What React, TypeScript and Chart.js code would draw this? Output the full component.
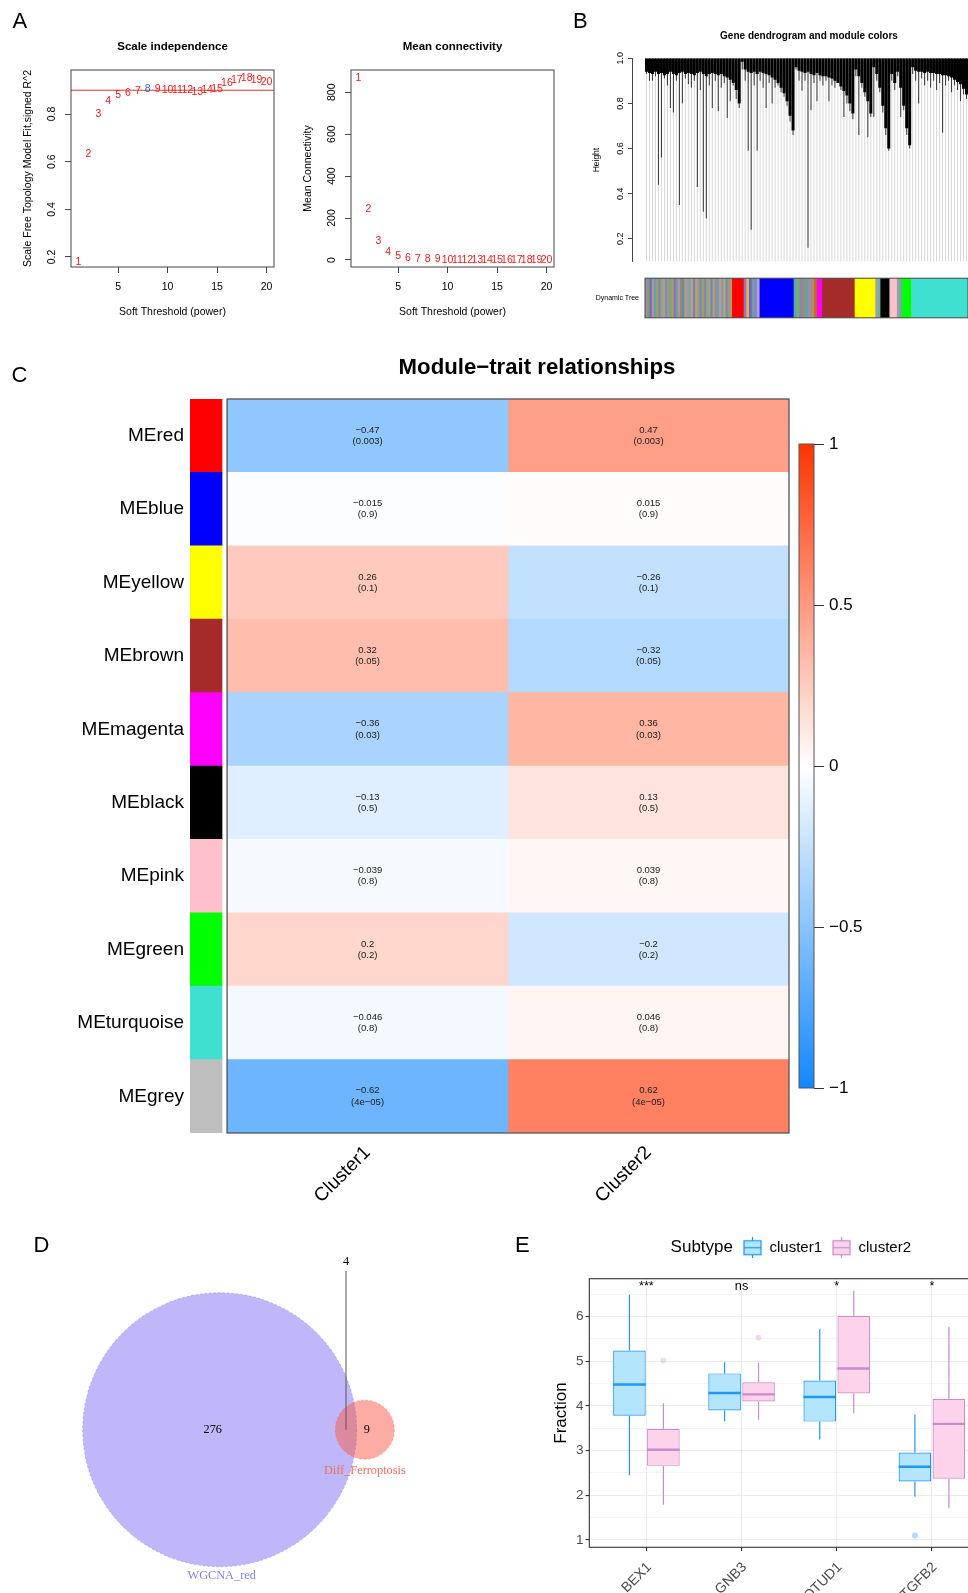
import React, { useEffect, useRef } from "react";
import { Chart, registerables } from "chart.js";

Chart.register(...registerables);

const SANS = "'Liberation Sans', Arial, Helvetica, sans-serif";
const SERIF = "'Liberation Serif', 'Times New Roman', Times, serif";
Chart.defaults.font.family = SANS;
Chart.defaults.color = "#000";

/* ---------------- Panel A data ---------------- */
const softPowers = [1, 2, 3, 4, 5, 6, 7, 8, 9, 10, 11, 12, 13, 14, 15, 16, 17, 18, 19, 20];
const scaleFreeR2 = [0.18, 0.63, 0.8, 0.856, 0.88, 0.887, 0.897, 0.905, 0.905, 0.9, 0.9, 0.9, 0.894, 0.9, 0.903, 0.929, 0.943, 0.95, 0.943, 0.936];
const meanConnectivity = [869, 242, 89, 37, 19, 11, 5, 3, 2.2, 1.6, 1.3, 1.1, 0.9, 0.8, 0.7, 0.6, 0.5, 0.45, 0.4, 0.35];
const chosenPower = 8;
const r2Cutoff = 0.9;
const powerTicks = [5, 10, 15, 20];
const r2Ticks = [0.2, 0.4, 0.6, 0.8];
const connectivityTicks = [0, 200, 400, 600, 800];

/* ---------------- Panel B data ---------------- */
const leafCanopy = [
  0.94, 0.935, 0.93, 0.94, 0.93, 0.935, 0.925, 0.93, 0.94, 0.93,
  0.925, 0.935, 0.94, 0.93, 0.935, 0.93, 0.925, 0.935, 0.94, 0.93,
  0.92, 0.93, 0.935, 0.93, 0.925, 0.93, 0.92, 0.915, 0.905, 0.89,
  0.86, 0.8, 0.985, 0.95, 0.94, 0.935, 0.94, 0.93, 0.94, 0.935,
  0.93, 0.925, 0.915, 0.905, 0.89, 0.87, 0.845, 0.81, 0.745, 0.68,
  0.96, 0.945, 0.94, 0.935, 0.94, 0.93, 0.925, 0.935, 0.925, 0.92,
  0.92, 0.915, 0.91, 0.9, 0.89, 0.875, 0.855, 0.835, 0.8, 0.755,
  0.95, 0.92, 0.89, 0.85, 0.81, 0.755, 0.96, 0.93, 0.87, 0.79,
  0.69, 0.6, 0.93, 0.89, 0.94, 0.87, 0.79, 0.69, 0.615, 0.96,
  0.945, 0.94, 0.94, 0.935, 0.94, 0.935, 0.935, 0.93, 0.93, 0.925,
  0.925, 0.92, 0.915, 0.905, 0.895, 0.885, 0.865, 0.84,
];
const leafTips = [
  0.93, 0.9, 0.9, 0.92, 0.44, 0.56, 0.91, 0.88, 0.78, 0.76,
  0.9, 0.35, 0.8, 0.91, 0.885, 0.87, 0.9, 0.43, 0.86, 0.32,
  0.29, 0.88, 0.78, 0.9, 0.765, 0.87, 0.89, 0.735, 0.81, 0.88,
  0.82, 0.78, 0.95, 0.9, 0.59, 0.24, 0.88, 0.59, 0.9, 0.87,
  0.78, 0.89, 0.8, 0.87, 0.88, 0.85, 0.83, 0.79, 0.72, 0.66,
  0.95, 0.9, 0.856, 0.9, 0.16, 0.77, 0.89, 0.81, 0.9, 0.88,
  0.9, 0.81, 0.88, 0.87, 0.89, 0.86, 0.74, 0.8, 0.765, 0.73,
  0.92, 0.66, 0.87, 0.83, 0.65, 0.74, 0.74, 0.9, 0.85, 0.76,
  0.66, 0.59, 0.9, 0.86, 0.92, 0.74, 0.77, 0.66, 0.6, 0.93,
  0.9, 0.8, 0.91, 0.88, 0.9, 0.87, 0.9, 0.86, 0.89, 0.67,
  0.88, 0.9, 0.85, 0.88, 0.86, 0.81, 0.84, 0.82,
];
const heightTicks = [0.2, 0.4, 0.6, 0.8, 1.0];
const TREE_TOP = 1.0;
const TREE_FLOOR = 0.1;
const mixA = ["#9c8fb8", "#8a9a5b", "#6b6fc2", "#b58fa3", "#5fa6a0", "#a3a35c", "#8c7cc4", "#7fb07f", "#c29a7a", "#7a8fb8", "#a68fa8", "#6fa86f", "#b0a050", "#9070c0", "#60a0b0", "#c0909a", "#889060", "#7080c8", "#a0b060", "#b08abf", "#70a8a0", "#b8a070", "#8878b8", "#98b078", "#c08888", "#6890b8", "#a0a058", "#9080b0", "#78b090", "#b89878", "#7088c0", "#a8a860", "#a080b8", "#68a898", "#c09890", "#8898b0", "#a8b068", "#9878c0", "#80a880", "#b89868"];
const mixB = ["#9a70c8", "#d0c040", "#7060d0", "#6aa0a8", "#9080c0", "#b0a0d8"];
const mixC = ["#60a8a0", "#70b070", "#9a78c0", "#8a9a60", "#68a0b0", "#a08ab8", "#b09060", "#c86428"];
const mixD = ["#a0a0a0", "#70b0a8"];
const mixE = ["#a0a0a0", "#60b0a0"];
const treeBandColors: (string | string[])[] = [mixA, "#FF0000", mixB, "#0000FF", mixC, "#FF00FF", "#A52A2A", "#FFFF00", mixD, "#000000", "#BEBEBE", "#FFC0CB", mixE, "#00FF00", "#40E0D0"];
const treeBandWidths = [29, 3.9, 5.3, 11.4, 7.8, 1.7, 10.9, 6.9, 1.7, 3.0, 0.3, 2.2, 1.7, 3.1, 20];

/* ---------------- Panel C data ---------------- */
const moduleNames = ["MEred", "MEblue", "MEyellow", "MEbrown", "MEmagenta", "MEblack", "MEpink", "MEgreen", "MEturquoise", "MEgrey"];
const moduleColors = ["#FF0000", "#0000FF", "#FFFF00", "#A52A2A", "#FF00FF", "#000000", "#FFC0CB", "#00FF00", "#40E0D0", "#BEBEBE"];
const traitNames = ["Cluster1", "Cluster2"];
const corCluster1 = [-0.47, -0.015, 0.26, 0.32, -0.36, -0.13, -0.039, 0.2, -0.046, -0.62];
const corCluster2 = [0.47, 0.015, -0.26, -0.32, 0.36, 0.13, 0.039, -0.2, 0.046, 0.62];
const pCluster1 = ["0.003", "0.9", "0.1", "0.05", "0.03", "0.5", "0.8", "0.2", "0.8", "4e\u221205"];
const pCluster2 = ["0.003", "0.9", "0.1", "0.05", "0.03", "0.5", "0.8", "0.2", "0.8", "4e\u221205"];
const colorbarTicks = [-1, -0.5, 0, 0.5, 1];

/* ---------------- Panel D data ---------------- */
const vennSetNames = ["WGCNA_red", "Diff_Ferroptosis"];
const vennOnly = [276, 9];
const vennShared = 4;

/* ---------------- Panel E data ---------------- */
const genes = ["BEX1", "GNB3", "OTUD1", "TGFB2"];
const subtypes = ["cluster1", "cluster2"];
const c1Min = [2.45, 3.66, 3.25, 1.97];
const c1Q1 = [3.78, 3.9, 3.65, 2.31];
const c1Median = [4.48, 4.29, 4.2, 2.64];
const c1Q3 = [5.24, 4.73, 4.57, 2.96];
const c1Max = [6.49, 4.98, 5.72, 3.81];
const c1Outliers = [[], [], [], [1.1]];
const c2Min = [1.79, 3.69, 3.84, 1.71];
const c2Q1 = [2.66, 4.1, 4.28, 2.37];
const c2Median = [3.02, 4.26, 4.84, 3.6];
const c2Q3 = [3.49, 4.53, 6.02, 4.16];
const c2Max = [4.06, 4.97, 6.58, 5.77];
const c2Outliers = [[5.02], [5.53], [], []];
const significance = ["***", "ns", "*", "*"];
const fractionGrid = [1, 1.5, 2, 2.5, 3, 3.5, 4, 4.5, 5, 5.5, 6, 6.5];

/* ---------------- helpers ---------------- */
const signed = (v: number) => (v < 0 ? "\u2212" + String(Math.abs(v)) : String(v));

type Label = { text: string; x: number; y: number; size: number; bold?: boolean; family?: string; color?: string; align?: CanvasTextAlign; baseline?: CanvasTextBaseline };
function textPlugin(id: string, items: Label[]) {
  return {
    id,
    afterDraw(chart: any) {
      const ctx = chart.ctx;
      items.forEach((t) => {
        ctx.save();
        ctx.font = `${t.bold ? "bold " : ""}${t.size}px ${t.family || SANS}`;
        ctx.fillStyle = t.color || "#000";
        ctx.textAlign = t.align || "center";
        ctx.textBaseline = t.baseline || "alphabetic";
        ctx.fillText(t.text, t.x, t.y);
        ctx.restore();
      });
    },
  };
}
function framePlugin(id: string, color: string, lw: number) {
  return {
    id,
    afterDraw(chart: any) {
      const { ctx, chartArea: a } = chart;
      ctx.save();
      ctx.strokeStyle = color;
      ctx.lineWidth = lw;
      ctx.strokeRect(a.left, a.top, a.right - a.left, a.bottom - a.top);
      ctx.restore();
    },
  };
}
const setTicks = (vals: number[]) => (s: any) => {
  s.ticks = vals.map((v) => ({ value: v }));
};
const NEG_END = [20, 135, 255];
const POS_END = [255, 51, 0];
function corColor(v: number) {
  const end = v < 0 ? NEG_END : POS_END;
  const t = Math.min(1, Math.abs(v));
  const c = end.map((e) => Math.round(255 + (e - 255) * t));
  return `rgb(${c[0]},${c[1]},${c[2]})`;
}
const base = { responsive: false, animation: false, events: [] as string[] };
const noLegend = { legend: { display: false }, tooltip: { enabled: false } };

/* ---------------- Panel A ---------------- */
function thresholdConfig(values: number[], o: { yMin: number; yMax: number; yTicks: number[]; yFmt: (v: number) => string; yTitle: string; yPad: number; title: string; cutoff?: number; highlight?: number }) {
  const labelPlugin = {
    id: "powerLabels",
    afterDatasetsDraw(chart: any) {
      const ctx = chart.ctx;
      const a = chart.chartArea;
      ctx.save();
      if (o.cutoff !== undefined) {
        const yy = chart.scales.y.getPixelForValue(o.cutoff);
        ctx.strokeStyle = "#f03030";
        ctx.lineWidth = 1;
        ctx.beginPath();
        ctx.moveTo(a.left, yy);
        ctx.lineTo(a.right, yy);
        ctx.stroke();
      }
      ctx.font = `10.5px ${SANS}`;
      ctx.textAlign = "center";
      ctx.textBaseline = "middle";
      chart.getDatasetMeta(0).data.forEach((el: any, i: number) => {
        ctx.fillStyle = softPowers[i] === o.highlight ? "#3a5fc8" : "#ee1c1c";
        ctx.fillText(String(softPowers[i]), el.x, el.y);
      });
      ctx.restore();
    },
  };
  return {
    type: "scatter",
    data: { datasets: [{ data: softPowers.map((p, i) => ({ x: p, y: values[i] })), pointRadius: 0 }] },
    options: {
      ...base,
      layout: { padding: { left: 0, top: 70, right: 71, bottom: 0 } },
      plugins: noLegend,
      scales: {
        x: {
          type: "linear", min: 0.24, max: 20.76,
          afterBuildTicks: setTicks(powerTicks),
          afterFit: (s: any) => { s.height = 63; },
          ticks: { autoSkip: false, minRotation: 0, maxRotation: 0, padding: 7.7, font: { size: 10.5 }, color: "#000", callback: (v: any) => String(v) },
          grid: { display: true, drawOnChartArea: false, drawTicks: true, tickLength: 6, color: "#444", tickColor: "#444" },
          border: { display: false },
          title: { display: true, text: "Soft Threshold (power)", font: { size: 10.5 }, color: "#000", padding: { top: 0, bottom: 11.7 } },
        },
        y: {
          type: "linear", min: o.yMin, max: o.yMax,
          afterBuildTicks: setTicks(o.yTicks),
          afterFit: (s: any) => { s.width = 71; },
          ticks: { autoSkip: false, minRotation: 90, maxRotation: 90, crossAlign: "center", padding: o.yPad, font: { size: 10.5 }, color: "#000", callback: (v: any) => o.yFmt(Number(v)) },
          grid: { display: true, drawOnChartArea: false, drawTicks: true, tickLength: 6, color: "#444", tickColor: "#444" },
          border: { display: false },
          title: { display: true, text: o.yTitle, font: { size: 10.5 }, color: "#000", padding: { top: 22, bottom: 0 } },
        },
      },
    },
    plugins: [labelPlugin, framePlugin("frameA", "#444", 1), textPlugin("titleA", [{ text: o.title, x: 172.5, y: 49.5, size: 11.5, bold: true }])],
  };
}

/* ---------------- Panel B ---------------- */
function dendroConfig() {
  const common = { grouped: false, inflateAmount: 0, borderWidth: 0 };
  return {
    type: "bar",
    data: {
      datasets: [
        { ...common, label: "canopy", data: leafCanopy.map((c, i) => ({ x: i, y: [c, TREE_TOP] })), backgroundColor: "#000", barThickness: 3, order: 0 },
        { ...common, label: "branch", data: leafTips.map((t, i) => ({ x: i, y: [t, TREE_TOP] })), backgroundColor: "#3c3c3c", barThickness: 1.1, order: 1 },
        { ...common, label: "guide", data: leafTips.map((t, i) => ({ x: i, y: [TREE_FLOOR, t] })), backgroundColor: "#d8d8d8", barThickness: 1, order: 2 },
      ],
    },
    options: {
      ...base,
      layout: { padding: { left: 0, top: 58.3, right: 0, bottom: 0 } },
      plugins: noLegend,
      scales: {
        x: { type: "linear", min: -4.85, max: 107.5, offset: false, grid: { offset: false }, display: false },
        y: {
          type: "linear", min: 0.098, max: 1.0,
          afterBuildTicks: setTicks(heightTicks),
          afterFit: (s: any) => { s.width = 62; },
          ticks: { autoSkip: false, minRotation: 90, maxRotation: 90, crossAlign: "center", padding: 0.75, font: { size: 9 }, color: "#000", callback: (v: any) => Number(v).toFixed(1) },
          grid: { display: true, drawOnChartArea: false, drawTicks: true, tickLength: 4, color: "#444", tickColor: "#444" },
          border: { display: true, color: "#444", width: 1 },
          title: { display: true, text: "Height", font: { size: 8.5 }, color: "#000", padding: { top: 21.9, bottom: 0 } },
        },
      },
    },
    plugins: [textPlugin("titleB", [{ text: "Gene dendrogram and module colors", x: 239, y: 39, size: 10, bold: true }])],
  };
}

function treeColorsConfig() {
  const stripes: { color: string; from: number; to: number }[] = [];
  let pos = 0;
  treeBandColors.forEach((c, k) => {
    const w = treeBandWidths[k];
    const cols = Array.isArray(c) ? c : [c];
    const step = w / cols.length;
    cols.forEach((col, j) => stripes.push({ color: col, from: pos + j * step, to: pos + (j + 1) * step }));
    pos += w;
  });
  return {
    type: "bar",
    data: {
      labels: ["Dynamic Tree"],
      datasets: stripes.map((s) => ({ data: [[s.from, s.to]], backgroundColor: s.color, grouped: false, barPercentage: 1, categoryPercentage: 1, borderWidth: 0 })),
    },
    options: {
      ...base,
      indexAxis: "y",
      layout: { padding: { left: 0, top: 2, right: 0, bottom: 10 } },
      plugins: noLegend,
      scales: {
        x: { type: "linear", min: 0, max: 108, display: false },
        y: {
          afterFit: (s: any) => { s.width = 75; },
          ticks: { font: { size: 7 }, color: "#000", padding: 6 },
          grid: { display: false, drawTicks: false },
          border: { display: false },
        },
      },
    },
    plugins: [framePlugin("frameTree", "#444", 1)],
  };
}

/* ---------------- Panel C ---------------- */
const MODULE_STRIP = [-0.132, -0.018];
function heatmapConfig() {
  const common = { grouped: false, barPercentage: 1, categoryPercentage: 1, borderWidth: 0 };
  const cellText = {
    id: "cellText",
    afterDatasetsDraw(chart: any) {
      const ctx = chart.ctx;
      ctx.save();
      ctx.font = `9.5px ${SANS}`;
      ctx.fillStyle = "#1a1a1a";
      ctx.textAlign = "center";
      ctx.textBaseline = "middle";
      const sets: [number[], string[]][] = [[corCluster1, pCluster1], [corCluster2, pCluster2]];
      sets.forEach(([cors, ps], k) => {
        chart.getDatasetMeta(k + 1).data.forEach((el: any, i: number) => {
          const c = el.getCenterPoint();
          ctx.fillText(signed(cors[i]), c.x, c.y - 5.6);
          ctx.fillText("(" + ps[i] + ")", c.x, c.y + 5.6);
        });
      });
      ctx.restore();
    },
  };
  const heatFrame = {
    id: "heatFrame",
    afterDraw(chart: any) {
      const { ctx, chartArea: a } = chart;
      const x = chart.scales.x;
      const l = x.getPixelForValue(0);
      const r = x.getPixelForValue(2);
      ctx.save();
      ctx.strokeStyle = "#555";
      ctx.lineWidth = 1.3;
      ctx.strokeRect(l, a.top, r - l, a.bottom - a.top);
      ctx.restore();
    },
  };
  return {
    type: "bar",
    data: {
      labels: moduleNames,
      datasets: [
        { ...common, label: "module", data: moduleNames.map(() => MODULE_STRIP), backgroundColor: moduleColors },
        { ...common, label: traitNames[0], data: moduleNames.map(() => [0, 1]), backgroundColor: corCluster1.map(corColor) },
        { ...common, label: traitNames[1], data: moduleNames.map(() => [1, 2]), backgroundColor: corCluster2.map(corColor) },
      ],
    },
    options: {
      ...base,
      indexAxis: "y",
      layout: { padding: { left: 0, top: 69, right: 11, bottom: 0 } },
      plugins: noLegend,
      scales: {
        x: {
          type: "linear", min: MODULE_STRIP[0], max: 2,
          afterBuildTicks: setTicks([0.5, 1.5]),
          afterFit: (s: any) => { s.height = 77; },
          ticks: { autoSkip: false, minRotation: 45, maxRotation: 45, padding: 8.5, font: { size: 19 }, color: "#000", callback: (v: any) => traitNames[Math.round(Number(v) - 0.5)] || "" },
          grid: { display: false, drawTicks: false },
          border: { display: false },
        },
        y: {
          afterFit: (s: any) => { s.width = 190; },
          ticks: { font: { size: 19 }, color: "#000", padding: 6 },
          grid: { display: false, drawTicks: false },
          border: { display: false },
        },
      },
    },
    plugins: [cellText, heatFrame, textPlugin("titleC", [{ text: "Module\u2212trait relationships", x: 537, y: 44, size: 22.2, bold: true }])],
  };
}

function colorbarConfig() {
  return {
    type: "bar",
    data: {
      labels: [""],
      datasets: [
        {
          data: [[colorbarTicks[0], colorbarTicks[colorbarTicks.length - 1]]],
          barPercentage: 1,
          categoryPercentage: 1,
          borderWidth: 0,
          backgroundColor: (c: any) => {
            const chart = c.chart;
            const y = chart.scales && chart.scales.y;
            if (!chart.chartArea || !y) return "#fff";
            const g = chart.ctx.createLinearGradient(0, y.getPixelForValue(-1), 0, y.getPixelForValue(1));
            g.addColorStop(0, corColor(-1));
            g.addColorStop(0.5, "#ffffff");
            g.addColorStop(1, corColor(1));
            return g;
          },
        },
      ],
    },
    options: {
      ...base,
      layout: { padding: { left: 19, top: 24, right: 0, bottom: 22 } },
      plugins: noLegend,
      scales: {
        x: { display: false },
        y: {
          position: "right", type: "linear", min: -1, max: 1,
          afterBuildTicks: setTicks(colorbarTicks),
          afterFit: (s: any) => { s.width = 96; },
          ticks: { autoSkip: false, padding: 5, font: { size: 17 }, color: "#000", callback: (v: any) => signed(Number(v)) },
          grid: { display: true, drawOnChartArea: false, drawTicks: true, tickLength: 10, color: "#333", tickColor: "#333" },
          border: { display: false },
        },
      },
    },
    plugins: [framePlugin("frameBar", "#555", 1)],
  };
}

/* ---------------- Panel D ---------------- */
const VENN_K = 8.187;
const VENN_ORIGIN = [219.7, 229.7];
const VENN_FILL = ["rgba(128,112,245,0.5)", "rgba(250,90,70,0.5)"];
const VENN_TEXT = ["rgb(135,125,240)", "rgb(240,110,95)"];
function lensArea(d: number, r1: number, r2: number) {
  if (d >= r1 + r2) return 0;
  if (d <= Math.abs(r1 - r2)) return Math.PI * Math.min(r1, r2) ** 2;
  const a = r1 * r1 * Math.acos((d * d + r1 * r1 - r2 * r2) / (2 * d * r1));
  const b = r2 * r2 * Math.acos((d * d + r2 * r2 - r1 * r1) / (2 * d * r2));
  const c = 0.5 * Math.sqrt((-d + r1 + r2) * (d + r1 - r2) * (d - r1 + r2) * (d + r1 + r2));
  return a + b - c;
}
function solveDistance(r1: number, r2: number, target: number) {
  let lo = Math.abs(r1 - r2) + 1e-6;
  let hi = r1 + r2;
  for (let k = 0; k < 60; k++) {
    const mid = (lo + hi) / 2;
    if (lensArea(mid, r1, r2) > target) lo = mid;
    else hi = mid;
  }
  return (lo + hi) / 2;
}
function vennConfig() {
  const sizes = vennOnly.map((v) => v + vennShared);
  const radii = sizes.map((s) => VENN_K * Math.sqrt(s));
  const target = (vennShared / sizes[1]) * Math.PI * radii[1] * radii[1];
  const d = solveDistance(radii[0], radii[1], target);
  const cx = [VENN_ORIGIN[0], VENN_ORIGIN[0] + d];
  const vennText = {
    id: "vennText",
    afterDatasetsDraw(chart: any) {
      const ctx = chart.ctx;
      const small: any = chart.getDatasetMeta(0).data[0];
      const big: any = chart.getDatasetMeta(1).data[0];
      const rs = small.options.radius;
      const rb = big.options.radius;
      ctx.save();
      ctx.setLineDash([2.5, 2]);
      ctx.lineWidth = 0.8;
      ctx.strokeStyle = "rgba(120,105,235,0.55)";
      ctx.beginPath();
      ctx.arc(big.x, big.y, rb, 0, Math.PI * 2);
      ctx.stroke();
      ctx.strokeStyle = "rgba(240,100,80,0.55)";
      ctx.beginPath();
      ctx.arc(small.x, small.y, rs, 0, Math.PI * 2);
      ctx.stroke();
      ctx.setLineDash([]);
      const mid = (small.x - rs + big.x + rb) / 2;
      ctx.strokeStyle = "#555";
      ctx.lineWidth = 1;
      ctx.beginPath();
      ctx.moveTo(mid, 71);
      ctx.lineTo(mid, big.y);
      ctx.stroke();
      ctx.font = `12.3px ${SERIF}`;
      ctx.textAlign = "center";
      ctx.textBaseline = "middle";
      ctx.fillStyle = "#000";
      ctx.fillText(String(vennOnly[0]), big.x - 7, big.y);
      ctx.fillText(String(vennOnly[1]), small.x + 2, small.y);
      ctx.fillText(String(vennShared), mid, 62);
      ctx.fillStyle = VENN_TEXT[0];
      ctx.fillText(vennSetNames[0], big.x + 2, big.y + rb + 8.6);
      ctx.fillStyle = VENN_TEXT[1];
      ctx.fillText(vennSetNames[1], small.x, small.y + rs + 11.5);
      ctx.restore();
    },
  };
  return {
    type: "bubble",
    data: {
      datasets: [
        { label: vennSetNames[1], data: [{ x: cx[1], y: VENN_ORIGIN[1], r: radii[1] }], backgroundColor: VENN_FILL[1], borderWidth: 0, order: 0, clip: false },
        { label: vennSetNames[0], data: [{ x: cx[0], y: VENN_ORIGIN[1], r: radii[0] }], backgroundColor: VENN_FILL[0], borderWidth: 0, order: 1, clip: false },
      ],
    },
    options: {
      ...base,
      layout: { padding: 0, autoPadding: false },
      plugins: noLegend,
      scales: {
        x: { type: "linear", min: 0, max: 480, display: false },
        y: { type: "linear", min: 0, max: 393, reverse: true, display: false },
      },
    },
    plugins: [vennText],
  };
}

/* ---------------- Panel E ---------------- */
const C1_LINE = "#2196F3";
const C1_FILL = "#B3E5FC";
const C1_DOT = "rgba(33,150,243,0.35)";
const C2_LINE = "#C98BCB";
const C2_FILL = "#FCD3EA";
const C2_DOT = "rgba(201,139,203,0.3)";
const LEGEND_START = 243;
function boxGlyph(stroke: string, fill: string) {
  const c = document.createElement("canvas");
  c.width = 19;
  c.height = 21;
  const g = c.getContext("2d")!;
  g.strokeStyle = stroke;
  g.lineWidth = 1.2;
  g.beginPath();
  g.moveTo(9.5, 0);
  g.lineTo(9.5, 21);
  g.stroke();
  g.fillStyle = fill;
  g.fillRect(1, 3.5, 17, 14);
  g.strokeRect(1, 3.5, 17, 14);
  g.beginPath();
  g.moveTo(1, 10.5);
  g.lineTo(18, 10.5);
  g.stroke();
  return c;
}
const isMajor = (c: any) => c.tick && Number.isInteger(c.tick.value);
function boxplotConfig() {
  const glyphs = [boxGlyph(C1_LINE, C1_FILL), boxGlyph(C2_LINE, C2_FILL)];
  const groups = [
    { mins: c1Min, meds: c1Median, maxs: c1Max, outs: c1Outliers, line: C1_LINE, dot: C1_DOT },
    { mins: c2Min, meds: c2Median, maxs: c2Max, outs: c2Outliers, line: C2_LINE, dot: C2_DOT },
  ];
  const boxExtras = {
    id: "boxExtras",
    afterDatasetsDraw(chart: any) {
      const ctx = chart.ctx;
      const y = chart.scales.y;
      const x = chart.scales.x;
      const a = chart.chartArea;
      groups.forEach((g, di) => {
        chart.getDatasetMeta(di).data.forEach((el: any, i: number) => {
          const cx = el.x;
          const w = el.width;
          const top = Math.min(el.y, el.base);
          const bot = Math.max(el.y, el.base);
          ctx.save();
          ctx.strokeStyle = g.line;
          ctx.lineWidth = 1.2;
          ctx.beginPath();
          ctx.moveTo(cx, top);
          ctx.lineTo(cx, y.getPixelForValue(g.maxs[i]));
          ctx.moveTo(cx, bot);
          ctx.lineTo(cx, y.getPixelForValue(g.mins[i]));
          ctx.stroke();
          ctx.lineWidth = 2.4;
          const my = y.getPixelForValue(g.meds[i]);
          ctx.beginPath();
          ctx.moveTo(cx - w / 2, my);
          ctx.lineTo(cx + w / 2, my);
          ctx.stroke();
          ctx.fillStyle = g.dot;
          g.outs[i].forEach((v: number) => {
            ctx.beginPath();
            ctx.arc(cx, y.getPixelForValue(v), 3, 0, Math.PI * 2);
            ctx.fill();
          });
          ctx.restore();
        });
      });
      ctx.save();
      ctx.font = `12.7px ${SANS}`;
      ctx.fillStyle = "#000";
      ctx.textAlign = "center";
      ctx.textBaseline = "alphabetic";
      significance.forEach((s, i) => ctx.fillText(s, x.getPixelForValue(i), a.top + 11));
      ctx.restore();
    },
  };
  const legendShift = {
    id: "legendShift",
    afterUpdate(chart: any) {
      const lg = chart.legend;
      if (!lg || !lg.legendHitBoxes || !lg.legendHitBoxes.length) return;
      const dx = LEGEND_START - lg.legendHitBoxes[0].left;
      lg.left += dx;
      lg.right += dx;
      lg.legendHitBoxes.forEach((h: any) => { h.left += dx; });
    },
    afterDraw(chart: any) {
      const lg = chart.legend;
      if (!lg || !lg.legendHitBoxes || !lg.legendHitBoxes.length) return;
      const h = lg.legendHitBoxes[0];
      const ctx = chart.ctx;
      ctx.save();
      ctx.font = `17px ${SANS}`;
      ctx.fillStyle = "#000";
      ctx.textAlign = "right";
      ctx.textBaseline = "middle";
      ctx.fillText("Subtype", h.left - 10, h.top + h.height / 2);
      ctx.restore();
    },
  };
  const common = { xAxisID: "x", yAxisID: "y", borderWidth: 1.2, borderSkipped: false, categoryPercentage: 0.714, barPercentage: 0.959 };
  return {
    type: "bar",
    data: {
      datasets: [
        { ...common, label: subtypes[0], data: genes.map((_, i) => ({ x: i, y: [c1Q1[i], c1Q3[i]] })), backgroundColor: C1_FILL, borderColor: C1_LINE },
        { ...common, label: subtypes[1], data: genes.map((_, i) => ({ x: i, y: [c2Q1[i], c2Q3[i]] })), backgroundColor: C2_FILL, borderColor: C2_LINE },
      ],
    },
    options: {
      ...base,
      layout: { padding: { left: 0, top: 30.2, right: 11, bottom: 0 } },
      plugins: {
        tooltip: { enabled: false },
        legend: {
          display: true,
          position: "top",
          fullSize: false,
          align: "center",
          labels: {
            usePointStyle: true,
            pointStyleWidth: 19,
            padding: 10,
            color: "#000",
            font: { size: 15 },
            generateLabels: () =>
              subtypes.map((s, i) => ({ text: s, pointStyle: glyphs[i], fillStyle: "rgba(0,0,0,0)", strokeStyle: "rgba(0,0,0,0)", lineWidth: 0, hidden: false, datasetIndex: i })),
          },
        },
      },
      scales: {
        x: {
          type: "linear", min: -0.6, max: 3.6, offset: false,
          afterBuildTicks: setTicks(genes.map((_, i) => i)),
          afterFit: (s: any) => { s.height = 45.7; },
          ticks: { autoSkip: false, minRotation: 45, maxRotation: 45, padding: 8.1, labelOffset: 3, font: { size: 14 }, color: "#4d4d4d", callback: (v: any) => genes[Math.round(Number(v))] || "" },
          grid: { offset: false, color: "#ebebeb", lineWidth: 1.1, tickColor: "#333", tickLength: 3.7, tickWidth: 1.1 },
          border: { display: false },
        },
        xTop: {
          type: "linear", position: "top", display: true, offset: false,
          ticks: { display: false },
          grid: { display: false, drawTicks: false },
          border: { display: false },
          afterFit: (s: any) => { s.height = 13.5; },
        },
        y: {
          type: "linear", min: 0.836, max: 6.85,
          afterBuildTicks: setTicks(fractionGrid),
          afterFit: (s: any) => { s.width = 89.3; },
          ticks: { autoSkip: false, padding: 2, font: { size: 13.5 }, color: "#4d4d4d", callback: (v: any) => (Number.isInteger(Number(v)) ? String(v) : "") },
          grid: {
            color: "#ebebeb",
            lineWidth: (c: any) => (isMajor(c) ? 1.1 : 0.55),
            tickColor: (c: any) => (isMajor(c) ? "#333" : "rgba(0,0,0,0)"),
            tickLength: 3.7,
            tickWidth: 1.1,
          },
          border: { display: false },
          title: { display: true, text: "Fraction", font: { size: 17 }, color: "#000", padding: { top: 51.5, bottom: 0 } },
        },
      },
    },
    plugins: [boxExtras, legendShift, framePlugin("frameE", "#333", 1.1)],
  };
}

/* ---------------- React ---------------- */
function ChartCanvas({ left, top, width, height, make }: { left: number; top: number; width: number; height: number; make: () => any }) {
  const ref = useRef<HTMLCanvasElement>(null);
  useEffect(() => {
    const chart = new Chart(ref.current as HTMLCanvasElement, make());
    return () => chart.destroy();
  }, []);
  return <canvas ref={ref} width={width} height={height} style={{ position: "absolute", left, top, width, height }} />;
}

function PanelLetter({ text, left, top }: { text: string; left: number; top: number }) {
  return (
    <div style={{ position: "absolute", left, top, fontSize: 22, lineHeight: "22px", fontFamily: SANS, color: "#000" }}>{text}</div>
  );
}

export default function App() {
  useEffect(() => {
    document.body.style.margin = "0";
  }, []);
  return (
    <div style={{ position: "relative", width: 968, height: 1593, overflow: "hidden", background: "#fff" }}>
      <ChartCanvas left={0} top={0} width={345} height={330} make={() => thresholdConfig(scaleFreeR2, { yMin: 0.158, yMax: 0.985, yTicks: r2Ticks, yFmt: (v) => v.toFixed(1), yTitle: "Scale Free Topology Model Fit,signed R^2", yPad: 5.7, title: "Scale independence", cutoff: r2Cutoff, highlight: chosenPower })} />
      <ChartCanvas left={280} top={0} width={345} height={330} make={() => thresholdConfig(meanConnectivity, { yMin: -33.5, yMax: 906, yTicks: connectivityTicks, yFmt: (v) => String(v), yTitle: "Mean Connectivity", yPad: 4.5, title: "Mean connectivity" })} />
      <ChartCanvas left={570} top={0} width={398} height={268} make={dendroConfig} />
      <ChartCanvas left={570} top={268} width={398} height={60} make={treeColorsConfig} />
      <ChartCanvas left={0} top={330} width={800} height={880} make={heatmapConfig} />
      <ChartCanvas left={780} top={420} width={130} height={690} make={colorbarConfig} />
      <ChartCanvas left={0} top={1200} width={480} height={393} make={vennConfig} />
      <ChartCanvas left={500} top={1200} width={500} height={393} make={boxplotConfig} />
      <PanelLetter text="A" left={12.5} top={9.7} />
      <PanelLetter text="B" left={573} top={9.7} />
      <PanelLetter text="C" left={11.5} top={364.4} />
      <PanelLetter text="D" left={33.5} top={1234} />
      <PanelLetter text="E" left={515} top={1234} />
    </div>
  );
}
